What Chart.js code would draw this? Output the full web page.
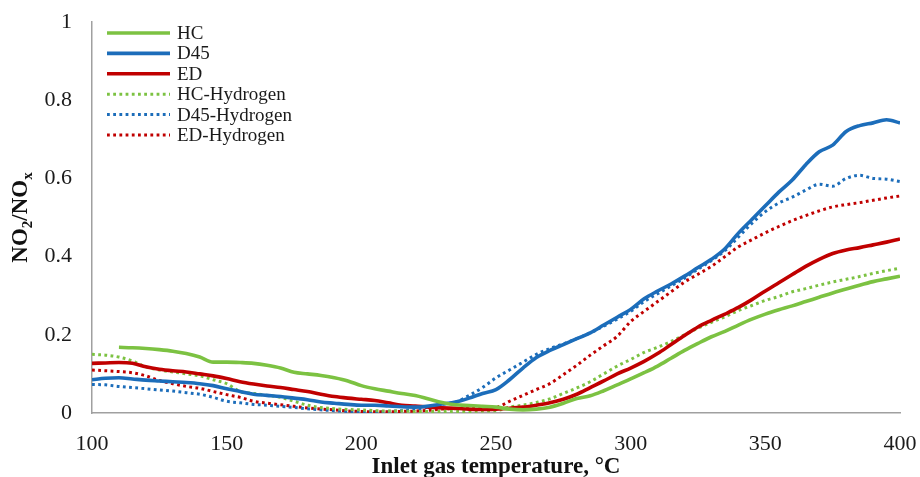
<!DOCTYPE html>
<html>
<head>
<meta charset="utf-8">
<script src="https://cdn.jsdelivr.net/npm/chart.js@4.4.1/dist/chart.umd.min.js"></script>
<style>
  html, body { margin: 0; padding: 0; background: #fff; }
  #wrap { width: 920px; height: 477px; }
</style>
</head>
<body>
<div id="wrap"><canvas id="no2Chart" width="920" height="477"></canvas></div>
<script>
// inlet temperature, degC
const temps = [100, 105, 110, 115, 120, 125, 130, 135, 140, 145, 150, 155, 160, 165, 170, 175, 180, 185, 190, 195,
  200, 205, 210, 215, 220, 225, 230, 235, 240, 245, 250, 255, 260, 265, 270, 275, 280, 285, 290, 295,
  300, 305, 310, 315, 320, 325, 330, 335, 340, 345, 350, 355, 360, 365, 370, 375, 380, 385, 390, 395, 400];

const hc = [null, null, 0.168, 0.167, 0.165, 0.162, 0.158, 0.152, 0.143, 0.130, 0.130, 0.129, 0.127, 0.122, 0.115, 0.104, 0.100, 0.096, 0.090, 0.082,
  0.070, 0.062, 0.056, 0.050, 0.045, 0.036, 0.027, 0.021, 0.019, 0.017, 0.015, 0.010, 0.008, 0.010, 0.015, 0.025, 0.037, 0.044, 0.057, 0.072,
  0.087, 0.103, 0.120, 0.140, 0.160, 0.178, 0.195, 0.209, 0.225, 0.240, 0.253, 0.264, 0.274, 0.285, 0.296, 0.307, 0.317, 0.327, 0.336, 0.343, 0.350];

const d45 = [0.085, 0.089, 0.090, 0.087, 0.084, 0.082, 0.080, 0.078, 0.075, 0.070, 0.062, 0.055, 0.048, 0.045, 0.042, 0.038, 0.034, 0.028, 0.025, 0.022,
  0.020, 0.020, 0.018, 0.016, 0.015, 0.018, 0.023, 0.028, 0.038, 0.050, 0.060, 0.085, 0.115, 0.142, 0.160, 0.175, 0.190, 0.205, 0.225, 0.245,
  0.265, 0.292, 0.312, 0.330, 0.350, 0.372, 0.393, 0.420, 0.460, 0.495, 0.530, 0.565, 0.596, 0.635, 0.668, 0.685, 0.720, 0.735, 0.742, 0.750, 0.742];

const ed = [0.127, 0.128, 0.129, 0.127, 0.118, 0.112, 0.108, 0.105, 0.100, 0.095, 0.088, 0.080, 0.074, 0.069, 0.065, 0.060, 0.055, 0.048, 0.042, 0.038,
  0.035, 0.032, 0.026, 0.020, 0.018, 0.015, 0.013, 0.012, 0.010, 0.009, 0.010, 0.012, 0.015, 0.020, 0.026, 0.035, 0.048, 0.065, 0.082, 0.100,
  0.115, 0.132, 0.152, 0.175, 0.198, 0.220, 0.237, 0.253, 0.270, 0.290, 0.312, 0.333, 0.354, 0.375, 0.393, 0.408, 0.417, 0.423, 0.430, 0.437, 0.445];

const hcH2 = [0.150, 0.148, 0.143, 0.133, 0.118, 0.110, 0.105, 0.100, 0.095, 0.085, 0.075, 0.055, 0.050, 0.045, 0.040, 0.030, 0.020, 0.014, 0.011, 0.009,
  0.008, 0.006, 0.005, 0.005, 0.004, 0.004, 0.004, 0.004, 0.004, 0.005, 0.006, 0.015, 0.020, 0.027, 0.036, 0.050, 0.064, 0.080, 0.100, 0.120,
  0.137, 0.155, 0.168, 0.183, 0.200, 0.217, 0.232, 0.246, 0.262, 0.275, 0.288, 0.298, 0.310, 0.318, 0.327, 0.335, 0.342, 0.349, 0.357, 0.364, 0.370];

const d45H2 = [0.073, 0.072, 0.068, 0.065, 0.062, 0.059, 0.056, 0.052, 0.048, 0.040, 0.030, 0.026, 0.022, 0.020, 0.017, 0.014, 0.011, 0.008, 0.006, 0.004,
  0.003, 0.003, 0.004, 0.006, 0.010, 0.015, 0.022, 0.028, 0.045, 0.065, 0.090, 0.110, 0.130, 0.150, 0.165, 0.177, 0.190, 0.205, 0.222, 0.240,
  0.260, 0.285, 0.305, 0.325, 0.345, 0.368, 0.390, 0.415, 0.450, 0.485, 0.515, 0.537, 0.552, 0.570, 0.585, 0.580, 0.600, 0.608, 0.600, 0.598, 0.592];

const edH2 = [0.110, 0.108, 0.106, 0.103, 0.095, 0.083, 0.075, 0.068, 0.063, 0.055, 0.047, 0.040, 0.030, 0.025, 0.021, 0.017, 0.013, 0.010, 0.008, 0.005,
  0.004, 0.003, 0.003, 0.004, 0.005, 0.007, 0.010, 0.011, 0.012, 0.012, 0.014, 0.030, 0.045, 0.060, 0.075, 0.098, 0.122, 0.148, 0.172, 0.196,
  0.234, 0.260, 0.285, 0.310, 0.335, 0.355, 0.375, 0.400, 0.425, 0.443, 0.461, 0.477, 0.492, 0.505, 0.517, 0.527, 0.533, 0.538, 0.544, 0.550, 0.555];

const seriesNames = ['HC', 'D45', 'ED', 'HC-Hydrogen', 'D45-Hydrogen', 'ED-Hydrogen'];
const xTicks = [100, 150, 200, 250, 300, 350, 400];
const yTicks = [0, 0.2, 0.4, 0.6, 0.8, 1];

const GREEN = '#7CC242';
const BLUE = '#1C6DBA';
const RED = '#C00000';
const DOTS = [2.8, 3.4];
const serif = '"Liberation Serif", "Times New Roman", serif';

function serie(label, values, color, dashed) {
  return {
    label: label,
    data: temps.map((t, i) => ({ x: t, y: values[i] })),
    borderColor: color,
    backgroundColor: color,
    borderWidth: dashed ? 3 : 3.6,
    borderDash: dashed ? DOTS : [],
    pointRadius: 0,
    cubicInterpolationMode: 'monotone',
    fill: false
  };
}

// legenda desenhada dentro da area do grafico, canto superior esquerdo
const legendaInterna = {
  id: 'legendaInterna',
  afterDatasetsDraw(chart) {
    const ctx = chart.ctx;
    ctx.save();
    ctx.font = '19px ' + serif;
    ctx.textBaseline = 'middle';
    ctx.fillStyle = '#1a1a1a';
    chart.data.datasets.forEach((ds, i) => {
      const y = 33 + i * 20.4;
      ctx.beginPath();
      ctx.setLineDash(ds.borderDash);
      ctx.strokeStyle = ds.borderColor;
      ctx.lineWidth = ds.borderWidth;
      ctx.moveTo(107, y);
      ctx.lineTo(170, y);
      ctx.stroke();
      ctx.setLineDash([]);
      ctx.fillText(ds.label, 177, y + 1);
    });
    ctx.restore();
  }
};

// titulos dos eixos (com subscritos no eixo y)
const titulosEixos = {
  id: 'titulosEixos',
  afterDraw(chart) {
    const ctx = chart.ctx;
    const area = chart.chartArea;
    ctx.save();
    ctx.fillStyle = '#111';
    ctx.textBaseline = 'alphabetic';

    ctx.font = 'bold 23px ' + serif;
    ctx.textAlign = 'center';
    ctx.fillText('Inlet gas temperature, °C', (area.left + area.right) / 2, 473);

    const partes = [['NO', false], ['2', true], ['/NO', false], ['x', true]];
    const big = 'bold 23px ' + serif;
    const small = 'bold 15px ' + serif;
    let total = 0;
    partes.forEach(p => { ctx.font = p[1] ? small : big; total += ctx.measureText(p[0]).width; });
    ctx.translate(27, (area.top + area.bottom) / 2);
    ctx.rotate(-Math.PI / 2);
    ctx.textAlign = 'left';
    let x = -total / 2;
    partes.forEach(p => {
      ctx.font = p[1] ? small : big;
      ctx.fillText(p[0], x, p[1] ? 5 : 0);
      x += ctx.measureText(p[0]).width;
    });
    ctx.restore();
  }
};

function renderizarGrafico() {
  const ctx = document.getElementById('no2Chart').getContext('2d');
  new Chart(ctx, {
    type: 'line',
    data: {
      datasets: [
        serie(seriesNames[0], hc, GREEN, false),
        serie(seriesNames[1], d45, BLUE, false),
        serie(seriesNames[2], ed, RED, false),
        serie(seriesNames[3], hcH2, GREEN, true),
        serie(seriesNames[4], d45H2, BLUE, true),
        serie(seriesNames[5], edH2, RED, true)
      ]
    },
    options: {
      responsive: false,
      animation: false,
      layout: { padding: { top: 22, right: 20, left: 0, bottom: 0 } },
      plugins: { legend: { display: false }, tooltip: { enabled: false } },
      scales: {
        x: {
          type: 'linear',
          min: 100,
          max: 400,
          afterBuildTicks: s => { s.ticks = xTicks.map(v => ({ value: v })); },
          afterFit: s => { s.height = 64; s.paddingLeft = 0; s.paddingRight = 0; },
          grid: { display: false, drawTicks: false },
          border: { display: true, color: '#A0A0A0', width: 1.5 },
          ticks: { padding: 18, color: '#1a1a1a', font: { family: serif, size: 22 }, maxRotation: 0, callback: v => String(v) }
        },
        y: {
          min: 0,
          max: 1,
          afterBuildTicks: s => { s.ticks = yTicks.map(v => ({ value: v })); },
          afterFit: s => { s.width = 92; s.paddingTop = 0; s.paddingBottom = 0; },
          grid: { display: false, drawTicks: false },
          border: { display: true, color: '#A0A0A0', width: 1.5 },
          ticks: { padding: 20, color: '#1a1a1a', font: { family: serif, size: 22 }, callback: v => String(v) }
        }
      }
    },
    plugins: [legendaInterna, titulosEixos]
  });
}

renderizarGrafico();
</script>
</body>
</html>
